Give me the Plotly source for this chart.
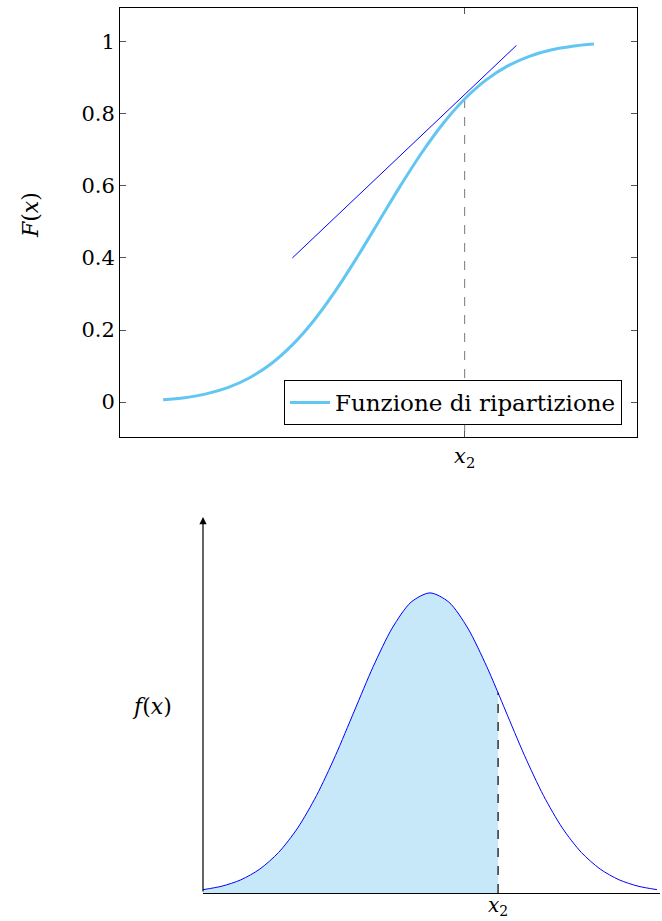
import plotly.graph_objects as go

# Top chart: cumulative distribution (x in units of sigma)
cdf_x = [-2.5, -2.25, -2.0, -1.75, -1.5, -1.25, -1.0, -0.75, -0.5, -0.25, 0.0,
         0.25, 0.5, 0.75, 1.0, 1.25, 1.5, 1.75, 2.0, 2.25, 2.5]
cdf_y = [0.0062, 0.0122, 0.0228, 0.0401, 0.0668, 0.1056, 0.1587, 0.2266, 0.3085, 0.4013, 0.5,
         0.5987, 0.6915, 0.7734, 0.8413, 0.8944, 0.9332, 0.9599, 0.9772, 0.9878, 0.9938]
tangent_x = [-1.0, 1.6]
tangent_y = [0.40, 0.99]
x2_top = 1.0
F_x2 = 0.8413
top_ticks = [0, 0.2, 0.4, 0.6, 0.8, 1]
top_ticklabels = ["0", "0.2", "0.4", "0.6", "0.8", "1"]
legend_name = "Funzione di ripartizione"

# Bottom chart: density (x in units of sigma, peak normalised)
pdf_x = [-3.0, -2.75, -2.5, -2.25, -2.0, -1.75, -1.5, -1.25, -1.0, -0.75, -0.5, -0.25, 0.0,
         0.25, 0.5, 0.75, 0.9, 1.0, 1.25, 1.5, 1.75, 2.0, 2.25, 2.5, 2.75, 3.0]
pdf_y = [0.0111, 0.0228, 0.0439, 0.0796, 0.1353, 0.2163, 0.3247, 0.4578, 0.6065, 0.7548, 0.8825, 0.9692, 1.0,
         0.9692, 0.8825, 0.7548, 0.6670, 0.6065, 0.4578, 0.3247, 0.2163, 0.1353, 0.0796, 0.0439, 0.0228, 0.0111]
x2_bot = 0.9
f_x2 = 0.6670

FONT = "DejaVu Serif"
W, H = 662, 921

fill_x = [x for x in pdf_x if x <= x2_bot]
fill_y = [y for x, y in zip(pdf_x, pdf_y) if x <= x2_bot]

fig = go.Figure()

# top
fig.add_trace(go.Scatter(x=[x2_top, x2_top], y=[F_x2, -0.2], mode="lines",
                         line=dict(color="#777777", width=1, dash="dash"),
                         showlegend=False, xaxis="x", yaxis="y"))
fig.add_trace(go.Scatter(x=cdf_x, y=cdf_y, mode="lines", name=legend_name,
                         line=dict(color="#62C6F2", width=3, shape="spline"),
                         xaxis="x", yaxis="y"))
fig.add_trace(go.Scatter(x=tangent_x, y=tangent_y, mode="lines",
                         line=dict(color="#0000FF", width=1),
                         showlegend=False, xaxis="x", yaxis="y"))

# bottom
fig.add_trace(go.Scatter(x=fill_x, y=fill_y, mode="lines", fill="tozeroy",
                         fillcolor="#C6E8F8", line=dict(width=0, color="#C6E8F8", shape="spline"),
                         showlegend=False, xaxis="x2", yaxis="y2"))
fig.add_trace(go.Scatter(x=pdf_x, y=pdf_y, mode="lines",
                         line=dict(color="#0000FF", width=1, shape="spline", smoothing=0.8),
                         showlegend=False, xaxis="x2", yaxis="y2"))
fig.add_trace(go.Scatter(x=[x2_bot, x2_bot], y=[0, f_x2], mode="lines",
                         line=dict(color="black", width=1.2, dash="dash"),
                         showlegend=False, xaxis="x2", yaxis="y2"))

def px_x(p):
    return p / W

def px_y(p):
    return 1 - p / H

fig.update_layout(
    width=W, height=H, autosize=False,
    margin=dict(l=0, r=0, t=0, b=0),
    paper_bgcolor="white", plot_bgcolor="white",
    font=dict(family=FONT, size=21, color="black"),
    xaxis=dict(domain=[px_x(120), px_x(637)], range=[-3, 3], showgrid=False, zeroline=False,
               showline=True, linecolor="black", linewidth=1, mirror="ticks",
               ticks="inside", ticklen=6, tickcolor="#555555",
               tickvals=[x2_top], ticktext=["<i>x</i><sub>2</sub>"], anchor="y"),
    yaxis=dict(domain=[px_y(437), px_y(8)], range=[-0.097, 1.094], showgrid=False, zeroline=False,
               showline=True, linecolor="black", linewidth=1, mirror="ticks",
               ticks="inside", ticklen=6, tickcolor="#555555",
               tickvals=top_ticks, ticktext=top_ticklabels, anchor="x"),
    xaxis2=dict(domain=[px_x(203), px_x(660)], range=[-3, 3.04], showgrid=False, zeroline=False,
                showline=True, linecolor="black", linewidth=1.2, showticklabels=False,
                ticks="", anchor="y2"),
    yaxis2=dict(domain=[px_y(893), px_y(517)], range=[0, 1.253], showgrid=False, zeroline=False,
                showline=False, showticklabels=False, ticks="", anchor="x2"),
    legend=dict(x=px_x(622), y=px_y(425), xanchor="right", yanchor="bottom",
                bordercolor="black", borderwidth=1, bgcolor="white",
                font=dict(family=FONT, size=23), itemwidth=40, tracegroupgap=0),
    annotations=[
        dict(text="<i>F</i>(<i>x</i>)", xref="paper", yref="paper", x=px_x(30), y=px_y(215),
             xanchor="center", yanchor="middle",
             showarrow=False, textangle=-90, font=dict(family=FONT, size=22)),
        dict(text="<i>f</i>(<i>x</i>)", xref="paper", yref="paper", x=px_x(152), y=px_y(706),
             xanchor="center", yanchor="middle",
             showarrow=False, font=dict(family=FONT, size=22)),
        dict(text="<i>x</i><sub>2</sub>", xref="x2", yref="y2", x=x2_bot, y=0,
             xanchor="center", yanchor="top", yshift=2, showarrow=False,
             font=dict(family=FONT, size=20)),
        dict(text="", xref="x2", yref="y2", x=-3, y=1.253, axref="x2", ayref="y2",
             ax=-3, ay=0, showarrow=True, arrowhead=2, arrowsize=1.2, arrowwidth=1.2,
             arrowcolor="black", standoff=0, startstandoff=0),
    ],
)

fig.write_html("out.html")
